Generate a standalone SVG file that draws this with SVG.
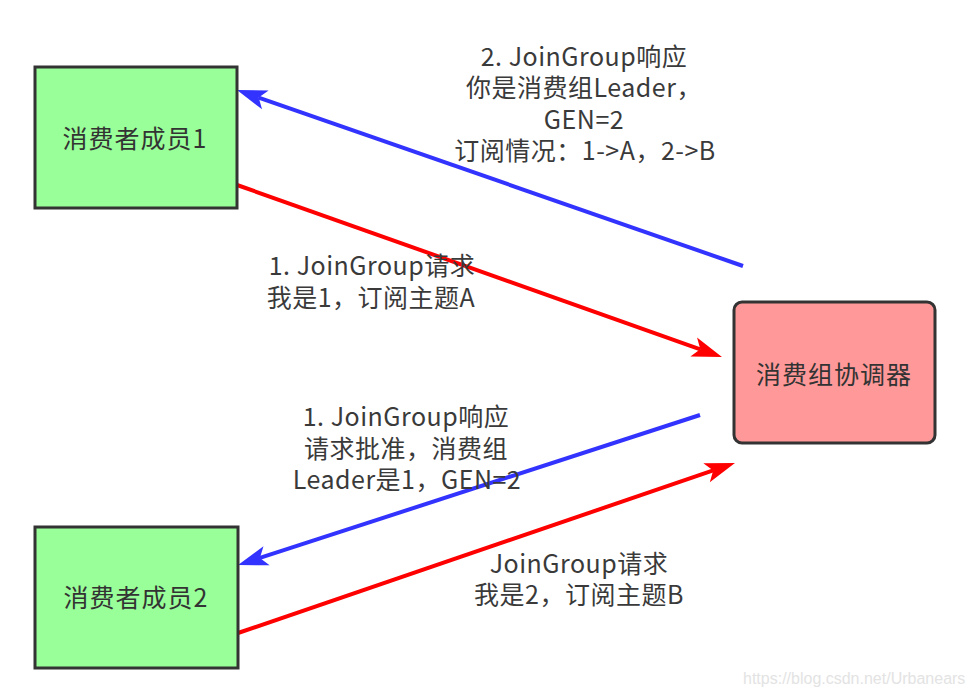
<svg xmlns="http://www.w3.org/2000/svg" width="973" height="697" viewBox="0 0 973 697">
<style>
.node{stroke:#333333;stroke-width:3}
.t{font-family:"Noto Sans CJK SC","Noto Sans",sans-serif;font-size:25px;fill:#333333;text-anchor:middle;letter-spacing:1px}
.lbl{font-family:"Noto Sans CJK SC","Noto Sans",sans-serif;font-size:25px;fill:#3a3a3a;text-anchor:middle;letter-spacing:0.5px}
.blue{stroke:#3333ff;stroke-width:4;fill:none}
.red{stroke:#ff0000;stroke-width:4;fill:none}
.wm{font-family:"Liberation Sans",Arial,sans-serif;font-size:16px;fill:#e3e3e3}
</style>
<defs>
<marker id="ab" markerUnits="userSpaceOnUse" markerWidth="30" markerHeight="20" refX="7" refY="10" orient="auto" overflow="visible">
<path d="M30,10 L0,0 L7,10 L0,20 Z" fill="#3333ff"/>
</marker>
<marker id="ar" markerUnits="userSpaceOnUse" markerWidth="30" markerHeight="20" refX="7" refY="10" orient="auto" overflow="visible">
<path d="M30,10 L0,0 L7,10 L0,20 Z" fill="#ff0000"/>
</marker>
</defs>
<rect width="973" height="697" fill="#ffffff"/>
<g id="connectors">
<line class="blue" x1="743" y1="266" x2="258.7" y2="97.6" marker-end="url(#ab)"/>
<line class="red" x1="237" y1="185" x2="700.3" y2="349.3" marker-end="url(#ar)"/>
<line class="blue" x1="700" y1="415" x2="259.9" y2="557.9" marker-end="url(#ab)"/>
<line class="red" x1="238" y1="633" x2="713.2" y2="470.4" marker-end="url(#ar)"/>
</g>
<g id="member1">
<rect class="node" x="35" y="67" width="202" height="141" fill="#99ff99"/>
<text class="t" x="135" y="148">消费者成员1</text>
</g>
<g id="member2">
<rect class="node" x="35" y="527" width="203" height="141" fill="#99ff99"/>
<text class="t" x="136" y="607">消费者成员2</text>
</g>
<g id="coordinator">
<rect class="node" x="734" y="302" width="201" height="141" rx="8" ry="8" fill="#ff9999"/>
<text class="t" x="834" y="384">消费组协调器</text>
</g>
<g id="labels">
<text class="lbl" x="584" y="66"><tspan x="584" y="66">2. JoinGroup响应</tspan><tspan x="584" y="97">你是消费组Leader，</tspan><tspan x="584" y="129">GEN=2</tspan><tspan x="585" y="160">订阅情况：1-&gt;A，2-&gt;B</tspan></text>
<text class="lbl" x="372" y="275"><tspan x="372" y="275">1. JoinGroup请求</tspan><tspan x="371" y="307">我是1，订阅主题A</tspan></text>
<text class="lbl" x="406" y="426"><tspan x="406" y="426">1. JoinGroup响应</tspan><tspan x="406" y="458">请求批准，消费组</tspan><tspan x="407" y="489">Leader是1，GEN=2</tspan></text>
<text class="lbl" x="579" y="573"><tspan x="579" y="573">JoinGroup请求</tspan><tspan x="579" y="604">我是2，订阅主题B</tspan></text>
</g>
<text class="wm" x="743" y="684">https://blog.csdn.net/Urbanears</text>
</svg>
